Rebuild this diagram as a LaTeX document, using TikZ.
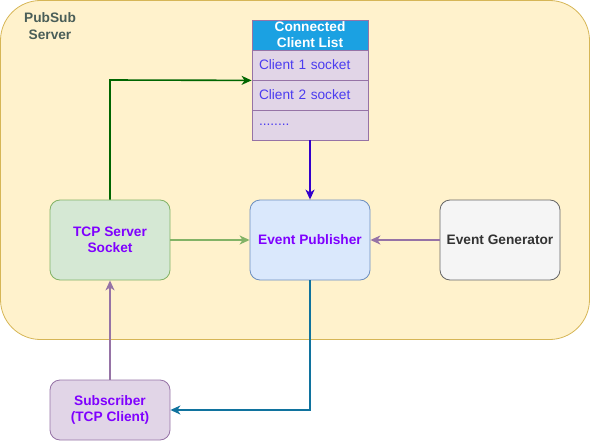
\documentclass[tikz,border=0pt]{standalone}
\usepackage{fontspec}
\setmainfont{Liberation Sans}
\usetikzlibrary{arrows.meta}
\definecolor{contfill}{HTML}{FFF2CC}
\definecolor{contline}{HTML}{D6B656}
\definecolor{titlecol}{HTML}{4A5E58}
\definecolor{hdrfill}{HTML}{1BA1E2}
\definecolor{purfill}{HTML}{E1D5E7}
\definecolor{purline}{HTML}{9673A6}
\definecolor{grnfill}{HTML}{D5E8D4}
\definecolor{grnline}{HTML}{82B366}
\definecolor{blufill}{HTML}{DAE8FC}
\definecolor{bluline}{HTML}{6C8EBF}
\definecolor{gryfill}{HTML}{F5F5F5}
\definecolor{gryline}{HTML}{666666}
\definecolor{txtpur}{HTML}{7F00FF}
\definecolor{txtrow}{HTML}{4B3CF0}
\definecolor{darkgrn}{HTML}{006600}
\definecolor{indigo}{HTML}{3300CC}
\definecolor{outblue}{HTML}{10739E}
\begin{document}
\begin{tikzpicture}[x=1pt,y=-1pt,
  fnt/.style={font=\fontsize{13.7}{16}\selectfont\bfseries},
  box/.style={draw, rounded corners=10pt, line width=0.8pt, minimum width=120pt, minimum height=80pt, inner sep=2pt, align=center, fnt, text=txtpur},
  row/.style={draw=purline, fill=purfill, line width=0.8pt, minimum width=116pt, minimum height=30pt, inner sep=0pt, text width=102pt, align=left, font=\fontsize{13.7}{16}\selectfont, text=txtrow},
  conn/.style={line width=1.6pt, -{Stealth[length=10pt,width=9pt,inset=3pt]}}
]
\useasboundingbox (0,0) rectangle (591,441);
\node[draw=contline, fill=contfill, line width=0.8pt, rounded corners=40pt, minimum width=589pt, minimum height=339pt, inner sep=0pt] (cont) at (295,170) {};
\node[text=titlecol, fnt, align=center, font=\fontsize{13.7}{17}\selectfont\bfseries] (title) at (50,26) {PubSub\\Server};

\node[draw=purline, fill=hdrfill, minimum width=116pt, minimum height=30pt, inner sep=0pt, align=center, text=white, fnt, line width=0.8pt] (hdr) at (310,35) {Connected\\Client List};
\node[row] (r1) at (310,65) {Client 1 socket};
\node[row] (r2) at (310,95) {Client 2 socket};
\node[row] (r3) at (310,125) {........};

\node[box, draw=grnline, fill=grnfill] (tcp) at (110,240) {TCP Server\\Socket};
\node[box, draw=bluline, fill=blufill] (pub) at (310,240) {Event Publisher};
\node[box, draw=gryline, fill=gryfill, text=black!80] (gen) at (500,240) {Event Generator};
\node[box, draw=purline, fill=purfill, minimum height=60pt] (sub) at (110,410) {Subscriber\\(TCP Client)};

\coordinate (c1) at (110,80);
\draw[conn, draw=darkgrn] (tcp.north) -- (c1) -- (r1.south west);
\draw[conn, draw=indigo] (r3.south) -- (pub.north);
\draw[conn, draw=grnline] (tcp.east) -- (pub.west);
\draw[conn, draw=purline] (gen.west) -- (pub.east);
\draw[conn, draw=purline] (sub.north) -- (tcp.south);
\coordinate (c2) at (310,410);
\draw[conn, draw=outblue] (pub.south) -- (c2) -- (sub.east);
\end{tikzpicture}
\end{document}
